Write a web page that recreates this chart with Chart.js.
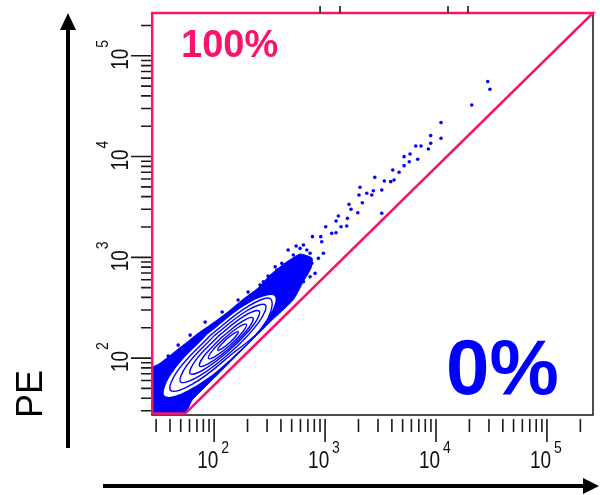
<!DOCTYPE html>
<html>
<head>
<meta charset="utf-8">
<script src="https://cdn.jsdelivr.net/npm/chart.js@4.4.0/dist/chart.umd.min.js"></script>
<style>
  html, body { margin: 0; padding: 0; background: #fff; }
  #plot { display: block; }
</style>
</head>
<body>
<canvas id="plot" width="600" height="495"></canvas>
<script>
// all values are log10 of the intensity (decades)

// axis range
const X_MIN = 1.44, X_MAX = 5.415;
const Y_MIN = 1.445, Y_MAX = 5.425;
const decades = [2, 3, 4, 5];
const topStubs = [2.955, 3.135, 4.108, 4.288];

// gate
const gateX = [1.442, 1.74, 5.415, 1.442, 1.442];
const gateY = [1.45, 1.45, 5.425, 5.425, 1.45];

// dense area (outermost level)
const envX = [1.40, 1.712, 1.802, 1.982, 2.162, 2.342, 2.523, 2.712, 2.802, 2.874, 2.883, 2.775, 2.640, 2.505, 2.396, 2.252, 2.135, 2.027, 1.937, 1.847, 1.757, 1.676, 1.586, 1.50, 1.44, 1.40, 1.40];
const envY = [1.40, 1.40, 1.583, 1.782, 1.980, 2.179, 2.377, 2.576, 2.755, 2.894, 2.993, 3.033, 2.943, 2.824, 2.695, 2.576, 2.467, 2.378, 2.308, 2.239, 2.159, 2.090, 2.010, 1.940, 1.910, 1.900, 1.40];

// inside of the contours
const innerX = [1.937, 1.62, 1.555, 1.78, 2.163, 2.48, 2.545, 2.32, 1.937];
const innerY = [2.233, 1.85, 1.625, 1.69, 2.007, 2.39, 2.615, 2.55, 2.233];

// contour levels
const lev1X = [1.965, 1.673, 1.608, 1.808, 2.155, 2.448, 2.513, 2.313, 1.965];
const lev1Y = [2.225, 1.878, 1.678, 1.743, 2.035, 2.323, 2.583, 2.518, 2.225];
const lev2X = [2.002, 1.755, 1.698, 1.865, 2.158, 2.405, 2.462, 2.295, 2.002];
const lev2Y = [2.223, 1.93, 1.763, 1.82, 2.067, 2.36, 2.527, 2.47, 2.223];
const lev3X = [2.035, 1.833, 1.784, 1.918, 2.155, 2.358, 2.406, 2.273, 2.035];
const lev3Y = [2.215, 1.978, 1.844, 1.893, 2.095, 2.333, 2.466, 2.418, 2.215];
const lev4X = [2.066, 1.909, 1.87, 1.971, 2.154, 2.311, 2.35, 2.249, 2.066];
const lev4Y = [2.204, 2.021, 1.92, 1.959, 2.116, 2.299, 2.40, 2.361, 2.204];
const lev5X = [2.09, 1.979, 1.95, 2.021, 2.15, 2.261, 2.29, 2.219, 2.09];
const lev5Y = [2.195, 2.066, 1.995, 2.024, 2.135, 2.264, 2.335, 2.306, 2.195];
const lev6X = [2.109, 2.049, 2.033, 2.071, 2.141, 2.201, 2.217, 2.179, 2.109];
const lev6Y = [2.186, 2.116, 2.078, 2.094, 2.154, 2.224, 2.262, 2.246, 2.186];

// outlier events
const outX = [4.466, 4.486, 4.322, 4.045, 4.045, 3.952, 3.952, 3.931, 3.817, 3.865, 3.766, 3.712, 3.759, 3.835, 3.712, 3.610, 3.667, 3.622, 3.592, 3.534, 3.448, 3.511, 3.435, 3.376, 3.421, 3.315, 3.306, 3.216, 3.336, 3.234, 3.295, 3.511, 3.120, 3.201, 3.195, 3.099, 3.144, 3.006, 3.060, 3.099, 2.961, 2.886, 2.805, 2.985, 2.940, 2.880, 2.610, 2.565, 2.835, 2.805, 2.444, 2.970, 2.835, 2.550, 2.414, 2.369,
    2.714, 2.775, 2.865, 2.910, 2.865, 2.759, 2.700, 2.655, 2.579, 2.324, 2.279, 2.486, 2.667, 2.739,
    1.919, 2.072, 2.216, 1.784, 1.676, 1.586, 2.306];
const outY = [4.744, 4.668, 4.512, 4.337, 4.182, 4.208, 4.132, 4.075, 4.105, 4.105, 4.026, 3.999, 3.949, 3.973, 3.910, 3.867, 3.844, 3.768, 3.751, 3.758, 3.794, 3.668, 3.661, 3.636, 3.619, 3.695, 3.619, 3.526, 3.542, 3.477, 3.443, 3.437, 3.410, 3.387, 3.311, 3.360, 3.304, 3.304, 3.238, 3.244, 3.205, 3.205, 3.122, 3.040, 2.990, 2.940, 2.940, 2.874, 2.841, 2.758, 2.758, 3.155, 3.072, 2.907, 2.725, 2.643,
    3.023, 3.089, 3.040, 2.841, 2.807, 2.695, 2.655, 2.543, 2.477, 2.543, 2.477, 2.814, 3.072, 3.112,
    2.357, 2.457, 2.576, 2.228, 2.129, 2.020, 2.655];

const gateLabel = '100%';
const outsideLabel = '0%';
const yTitle = 'PE';

const BLUE = '#0000ff';
const PINK = '#f8146c';
const FONT = '"Liberation Sans", Arial, sans-serif';

function toPoints(xs, ys) {
    return xs.map((x, i) => ({ x: x, y: ys[i] }));
}

function contour(xs, ys) {
    return {
        data: toPoints(xs, ys),
        showLine: true,
        borderColor: BLUE,
        borderWidth: 1.4,
        pointRadius: 0,
        tension: 0.4,
        fill: false
    };
}

// "10" with a raised exponent, drawn a bit taller than wide
function drawPower(ctx, exp, tenX, tenY, expX, expY) {
    ctx.save();
    ctx.translate(tenX, tenY);
    ctx.scale(1, 1.22);
    ctx.font = '19px ' + FONT;
    ctx.fillText('10', 0, 0);
    ctx.restore();
    ctx.save();
    ctx.translate(expX, expY);
    ctx.scale(1, 1.22);
    ctx.font = '14px ' + FONT;
    ctx.fillText(String(exp), 0, 0);
    ctx.restore();
}

const plotDecor = {
    id: 'plotDecor',
    beforeDatasetsDraw(chart) {
        const { ctx, chartArea: a } = chart;
        ctx.save();
        ctx.strokeStyle = '#111';
        ctx.lineWidth = 1.5;
        ctx.strokeRect(a.left, a.top, a.right - a.left, a.bottom - a.top + 1);
        ctx.restore();
    },
    afterDraw(chart) {
        const { ctx, chartArea: a, scales: { x, y } } = chart;
        ctx.save();

        // log ticks
        ctx.strokeStyle = '#1a1a1a';
        ctx.lineWidth = 1.6;
        ctx.beginPath();
        for (let d = 1; d <= 5; d++) {
            for (let k = 1; k <= 9; k++) {
                const v = d + Math.log10(k);
                if (v >= X_MIN && v <= X_MAX) {
                    const px = x.getPixelForValue(v);
                    ctx.moveTo(px, a.bottom + 5);
                    ctx.lineTo(px, a.bottom + (k === 1 ? 28 : 18));
                }
                if (v >= Y_MIN && v <= Y_MAX) {
                    const py = y.getPixelForValue(v);
                    ctx.moveTo(a.left - 1, py);
                    ctx.lineTo(a.left - (k === 1 ? 21 : 11), py);
                }
            }
        }
        topStubs.forEach(v => {
            const px = x.getPixelForValue(v);
            ctx.moveTo(px, a.top - 7);
            ctx.lineTo(px, a.top);
        });
        ctx.stroke();

        // tick labels
        ctx.fillStyle = '#111';
        ctx.textAlign = 'left';
        ctx.textBaseline = 'alphabetic';
        decades.forEach(d => {
            const px = x.getPixelForValue(d);
            drawPower(ctx, d, px - 17, a.bottom + 54, px + 7, a.bottom + 39);
        });
        decades.forEach(d => {
            const py = y.getPixelForValue(d);
            ctx.save();
            ctx.translate(a.left - 24, py + 14);
            ctx.rotate(-Math.PI / 2);
            drawPower(ctx, d, 0, 0, 22, -20);
            ctx.restore();
        });

        // axis arrows
        ctx.strokeStyle = '#000';
        ctx.fillStyle = '#000';
        ctx.lineWidth = 4;
        ctx.beginPath();
        ctx.moveTo(68, 448);
        ctx.lineTo(68, 26);
        ctx.moveTo(103, 486);
        ctx.lineTo(586, 486);
        ctx.stroke();
        ctx.beginPath();
        ctx.moveTo(68, 13);
        ctx.lineTo(60, 30);
        ctx.lineTo(76, 30);
        ctx.closePath();
        ctx.moveTo(599, 486);
        ctx.lineTo(583, 478);
        ctx.lineTo(583, 494);
        ctx.closePath();
        ctx.fill();

        // axis title
        ctx.save();
        ctx.translate(42, 394);
        ctx.rotate(-Math.PI / 2);
        ctx.textAlign = 'center';
        ctx.font = '36px ' + FONT;
        ctx.fillText(yTitle, 0, 0);
        ctx.restore();

        // gate percentages
        ctx.fillStyle = PINK;
        ctx.font = 'bold 38px ' + FONT;
        ctx.fillText(gateLabel, 181, 57);
        ctx.fillStyle = BLUE;
        ctx.font = 'bold 78px ' + FONT;
        ctx.fillText(outsideLabel, 446, 394);

        ctx.restore();
    }
};

new Chart(document.getElementById('plot'), {
    type: 'scatter',
    data: {
        datasets: [
            {
                data: toPoints(gateX, gateY),
                showLine: true,
                borderColor: PINK,
                borderWidth: 2.5,
                pointRadius: 0,
                fill: false,
                clip: 6
            },
            contour(lev6X, lev6Y),
            contour(lev5X, lev5Y),
            contour(lev4X, lev4Y),
            contour(lev3X, lev3Y),
            contour(lev2X, lev2Y),
            contour(lev1X, lev1Y),
            {
                data: toPoints(innerX, innerY),
                showLine: true,
                borderWidth: 0,
                borderColor: 'rgba(0,0,0,0)',
                backgroundColor: '#fff',
                pointRadius: 0,
                tension: 0.4,
                fill: 'shape'
            },
            {
                data: toPoints(envX, envY),
                showLine: true,
                borderWidth: 1,
                borderColor: BLUE,
                backgroundColor: BLUE,
                pointRadius: 0,
                tension: 0.15,
                fill: 'shape'
            },
            {
                data: toPoints(outX, outY),
                showLine: false,
                pointRadius: 1.8,
                pointBackgroundColor: BLUE,
                pointBorderWidth: 0
            }
        ]
    },
    options: {
        responsive: false,
        animation: false,
        events: [],
        layout: { padding: { left: 152, right: 7, top: 13, bottom: 81 } },
        scales: {
            x: { type: 'linear', min: X_MIN, max: X_MAX, display: false },
            y: { type: 'linear', min: Y_MIN, max: Y_MAX, display: false }
        },
        plugins: {
            legend: { display: false },
            tooltip: { enabled: false }
        }
    },
    plugins: [plotDecor]
});
</script>
</body>
</html>
